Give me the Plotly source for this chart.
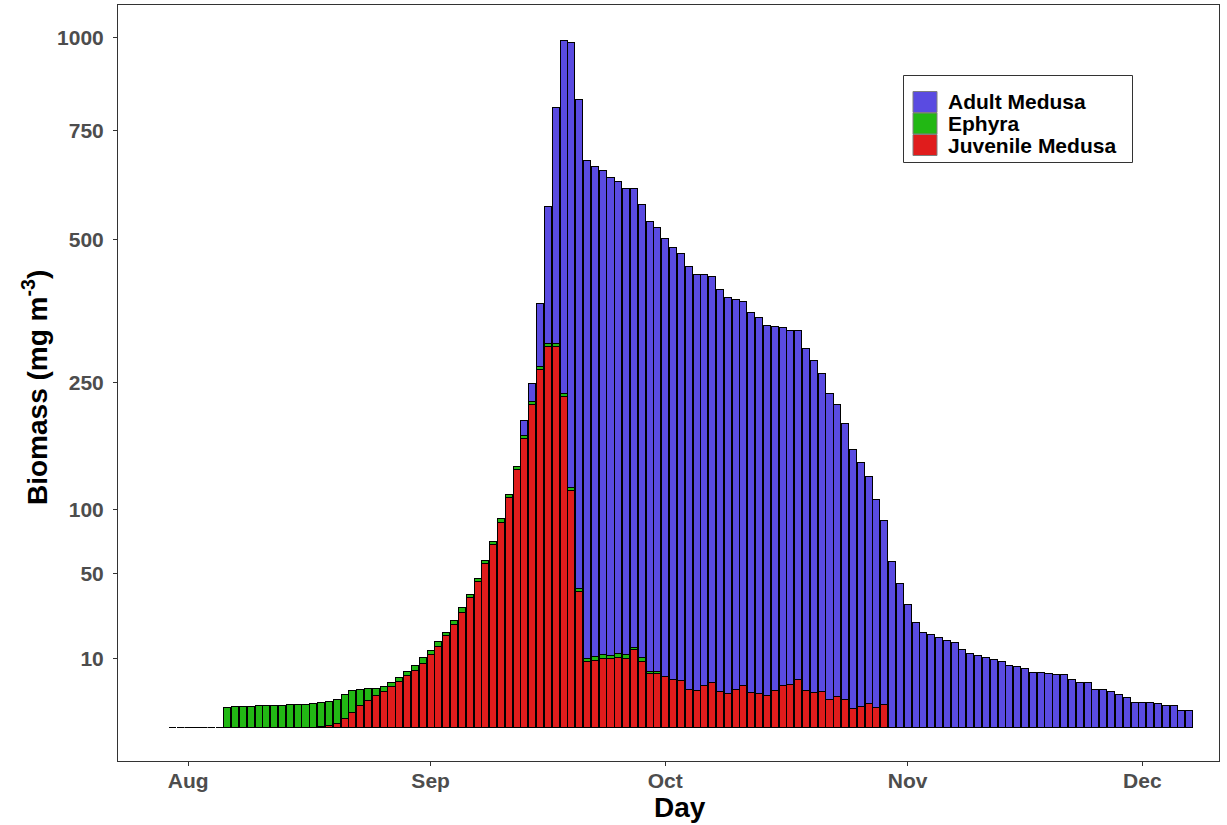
import numpy as np
import pandas as pd
import plotly.graph_objects as go

# ---------------- data (mg m^-3), one value per day, 30 Jul -> 7 Dec ----------------
start_date = "2019-07-30"
days = pd.date_range(start_date, periods=131, freq="D")

juvenile = [
    0, 0, 0, 0, 0, 0, 0, 0, 0, 0, 0, 0, 0, 0, 0, 0, 0, 0,
    0.001, 0.003, 0.013, 0.042, 0.20, 0.48, 1.00, 1.62, 2.16, 2.80,
    3.62, 4.41, 5.70, 6.94, 8.82, 11.2, 14.0, 17.8, 22.2, 28.1,
    35.8, 45.1, 56.9, 70.7, 88.7, 111, 140, 176, 220, 270,
    306, 306, 231, 118, 39.1, 9.10, 9.65, 10.2, 10.2, 10.5,
    10.2, 13.0, 9.37, 6.15, 6.15, 5.49, 4.80, 4.66, 3.11, 2.96,
    3.80, 4.35, 2.74, 2.44, 3.16, 3.80, 2.59, 2.44, 2.26, 2.89,
    3.80, 3.98, 4.94, 2.89, 2.59, 2.74, 1.71, 2.09, 1.71, 0.77,
    0.94, 1.26, 0.85, 1.16,
    0, 0, 0, 0, 0, 0, 0, 0, 0, 0, 0, 0, 0, 0, 0, 0, 0, 0, 0, 0,
    0, 0, 0, 0, 0, 0, 0, 0, 0, 0, 0, 0, 0, 0, 0, 0, 0, 0, 0,
]

ephyra = [
    0, 0, 0, 0, 0, 0, 0,
    0.88, 0.94, 0.94, 0.94, 1.03, 1.03, 1.03, 1.03, 1.12, 1.12,
    1.12, 1.19, 1.24, 1.21, 1.24, 1.14, 1.02, 0.585, 0.287, 0.115,
    0.045, 0.034, 0.052, 0.034, 0.052, 0.059, 0.047, 0.039, 0.022, 0.037,
    0.041, 0.019, 0.016, 0.021, 0.019, 0.023, 0.019, 0.019, 0.019, 0.019,
    0.019, 0.015, 0.015, 0.019, 0.019, 0.014, 0.023, 0.023, 0.023, 0.019,
    0.029, 0.023, 0.008, 0.023, 0.012, 0.012,
    0, 0, 0, 0, 0, 0, 0, 0, 0, 0, 0, 0, 0, 0, 0, 0, 0, 0, 0, 0,
    0, 0, 0, 0, 0, 0, 0, 0, 0, 0, 0, 0, 0, 0, 0, 0, 0, 0, 0, 0,
    0, 0, 0, 0, 0, 0, 0, 0, 0, 0, 0, 0, 0, 0, 0, 0, 0, 0, 0, 0,
    0, 0, 0, 0, 0, 0, 0, 0,
]

adult = [
    0, 0, 0, 0, 0, 0, 0, 0, 0, 0, 0, 0, 0, 0, 0, 0, 0, 0, 0, 0,
    0, 0, 0, 0, 0, 0, 0, 0, 0, 0, 0, 0, 0, 0, 0, 0, 0, 0, 0, 0,
    0, 0, 0, 0, 0,
    0.49, 0.66, 8.16, 39.2, 117, 261, 416, 502, 522, 505,
    492, 480, 468, 456, 442, 432, 425, 413, 403, 392,
    384, 375, 363, 354, 346, 340, 330, 318, 310, 304,
    297, 287, 279, 269, 263, 255, 246, 232, 212, 196,
    179, 160, 141, 125, 108, 90.8, 71.3, 58.2, 43.6, 31.8,
    23.2, 19.2, 18.4, 17.1, 15.9, 15.2, 13.0, 11.7, 10.9, 10.3,
    9.74, 9.15, 8.28, 7.89, 7.39, 6.47, 6.47, 6.24, 5.90, 5.90,
    4.80, 4.22, 4.22, 3.11, 3.11, 2.80, 2.30, 1.87, 1.37, 1.37,
    1.37, 1.22, 1.03, 1.03, 0.62, 0.62,
]

series_names = ["Adult Medusa", "Ephyra", "Juvenile Medusa"]
series_colors = ["#5A4BE1", "#22B814", "#E01C1C"]

y_tick_values = [10, 50, 100, 250, 500, 750, 1000]
x_tick_dates = ["2019-08-01", "2019-09-01", "2019-10-01", "2019-11-01", "2019-12-01"]
x_tick_labels = ["Aug", "Sep", "Oct", "Nov", "Dec"]

assert len(juvenile) == len(ephyra) == len(adult) == len(days)

# ---------------- sqrt-scale (stacking happens on the transformed values) -------------
juv_h = np.sqrt(np.array(juvenile, dtype=float))
eph_h = np.sqrt(np.array(ephyra, dtype=float))
adu_h = np.sqrt(np.array(adult, dtype=float))
total = juv_h + eph_h + adu_h
empty = total == 0
# zero days still show the bar outline as a flat (dashed-looking) segment
juv_h = np.where(empty, 0.0015, juv_h)

W, H = 1227, 825
L, R, T, B = 118, 1219, 5, 761   # panel edges in pixels
FONT = "Liberation Sans"
DAY_MS = 86400000
bar_w = 0.9 * DAY_MS

fig = go.Figure()
fig.add_trace(go.Bar(
    x=days, y=juv_h, name=series_names[2],
    width=np.where(empty, 0.82 * DAY_MS, bar_w),
    marker=dict(color=series_colors[2],
                line=dict(color=np.where(empty, "#6E6E6E", "black").tolist(), width=1)),
    showlegend=False,
))
for name, h, col in [(series_names[1], eph_h, series_colors[1]),
                     (series_names[0], adu_h, series_colors[0])]:
    fig.add_trace(go.Bar(
        x=days, y=h, name=name, width=bar_w,
        marker=dict(color=col, line=dict(color="black", width=1)),
        showlegend=False,
    ))

aug1 = pd.Timestamp("2019-08-01")
x_lo = aug1 - pd.Timedelta(days=8.97)
x_hi = aug1 + pd.Timedelta(days=131.8)

k = 21.82
y0_px = 727.8
y_hi = (y0_px - T) / k
y_lo = -(B - y0_px) / k

tickfont = dict(family=FONT, size=21, color="#4D4D4D", weight="bold")

fig.update_layout(
    width=W, height=H,
    margin=dict(l=L, r=W - R, t=T, b=H - B, pad=0),
    paper_bgcolor="white", plot_bgcolor="white",
    barmode="stack",
    showlegend=False,
    xaxis=dict(
        type="date", range=[x_lo, x_hi],
        tickvals=x_tick_dates, ticktext=x_tick_labels,
        tickfont=tickfont, ticks="outside", ticklen=4, tickcolor="#333333", tickwidth=1,
        showline=True, mirror=True, linecolor="#333333", linewidth=1,
        showgrid=False, zeroline=False, ticklabelstandoff=-3,
    ),
    yaxis=dict(
        range=[y_lo, y_hi],
        tickvals=list(np.sqrt(y_tick_values)), ticktext=[str(v) for v in y_tick_values],
        tickfont=tickfont, ticks="outside", ticklen=4, tickcolor="#333333", tickwidth=1,
        showline=True, mirror=True, linecolor="#333333", linewidth=1,
        showgrid=False, zeroline=False, ticklabelstandoff=5,
    ),
)

def px(xp):
    return (xp - L) / (R - L)

def py(yp):
    return (B - yp) / (B - T)

# axis titles
fig.add_annotation(x=px(680), y=py(807), xref="paper", yref="paper",
                   text="Day", showarrow=False,
                   font=dict(family=FONT, size=28, color="black", weight="bold"),
                   xanchor="center", yanchor="middle")
fig.add_annotation(x=px(35), y=py(388), xref="paper", yref="paper",
                   text="Biomass (mg m<sup>-3</sup>)", showarrow=False, textangle=-90,
                   font=dict(family=FONT, size=28, color="black", weight="bold"),
                   xanchor="center", yanchor="middle")

# legend (drawn as key boxes + labels)
fig.add_shape(type="rect", xref="paper", yref="paper",
              x0=px(903.5), x1=px(1132.5), y0=py(162.5), y1=py(75.5),
              line=dict(color="#333333", width=1), fillcolor="white", layer="above")
key_rows = [(91.5, 112.5), (113, 134), (134.5, 155.5)]
for (top, bot), name, col in zip(key_rows, series_names, series_colors):
    fig.add_shape(type="rect", xref="paper", yref="paper",
                  x0=px(913), x1=px(937), y0=py(bot), y1=py(top),
                  line=dict(color="#7F7F7F", width=1), fillcolor=col, layer="above")
    fig.add_annotation(x=px(946), y=py((top + bot) / 2), xref="paper", yref="paper",
                       text=name, showarrow=False, xanchor="left", yanchor="middle",
                       font=dict(family=FONT, size=21, color="black", weight="bold"))

fig.write_html("out.html")
